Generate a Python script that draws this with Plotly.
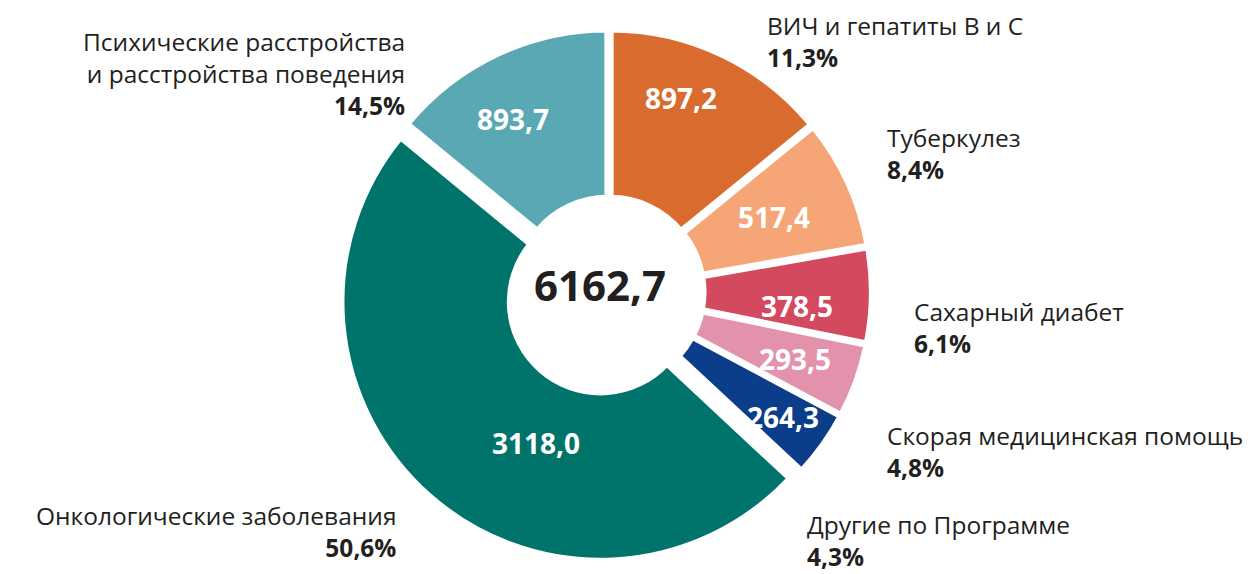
import plotly.graph_objects as go

categories = ["ВИЧ и гепатиты В и С", "Туберкулез", "Сахарный диабет",
              "Скорая медицинская помощь", "Другие по Программе",
              "Онкологические заболевания",
              "Психические расстройства<br>и расстройства поведения"]
amounts = [897.2, 517.4, 378.5, 293.5, 264.3, 3118.0, 893.7]
amount_labels = ["897,2", "517,4", "378,5", "293,5", "264,3", "3118,0", "893,7"]
share_labels = ["11,3%", "8,4%", "6,1%", "4,8%", "4,3%", "50,6%", "14,5%"]
total_label = "6162,7"
colors = ["#DA6B2E", "#F6A577", "#D34A5F", "#E293AB", "#0C3D8A", "#00736A", "#59A8B3"]
pulls = [0.015, 0.015, 0.015, 0.015, 0.015, 0.05, 0.015]

FONT = "Open Sans"
OFF = 8                      # page body margin
W, H = 1247, 566             # figure size
cx, cy, R = 609, 292, 259    # pie centre / radius in page pixels
half = R * (1 + max(pulls))


def px(x):
    return (x - OFF) / W


def py(y):
    return 1 - (y - OFF) / H


fig = go.Figure(go.Pie(
    labels=categories,
    values=amounts,
    textinfo="none",
    hole=0.35,
    sort=False,
    direction="clockwise",
    rotation=0,
    pull=pulls,
    marker=dict(colors=colors, line=dict(color="white", width=6)),
    showlegend=False,
    text=amount_labels,
    hoverinfo="label+text",
    domain=dict(x=[px(cx - half), px(cx + half)],
                y=[py(cy + half), py(cy - half)]),
))

# value labels inside the slices (page px, centre of the text box)
value_pos = [(681, 98), (774, 217), (797, 306), (795, 359), (783, 417), (536, 443), (513, 119)]
for lab, (x, y) in zip(amount_labels, value_pos):
    fig.add_annotation(
        x=px(x), y=py(y), xref="paper", yref="paper",
        xanchor="center", yanchor="middle",
        text=f"<b>{lab}</b>", showarrow=False,
        font=dict(family=FONT, size=28, color="white"),
    )

# outside labels: (x px, y px of block centre, anchor)
label_pos = [
    (765, 42, "left"),
    (885, 153, "left"),
    (912, 327.5, "left"),
    (885, 451.5, "left"),
    (805, 540, "left"),
    (398, 531, "right"),
    (407, 73, "right"),
]
for cat, pct, (x, y, anc) in zip(categories, share_labels, label_pos):
    fig.add_annotation(
        x=px(x), y=py(y), xref="paper", yref="paper",
        xanchor=anc, yanchor="middle", align=anc,
        text=f"{cat}<br><b>{pct}</b>", showarrow=False,
        font=dict(family=FONT, size=24.5, color="#231F20"),
    )

fig.add_annotation(
    x=px(600), y=py(285), xref="paper", yref="paper",
    xanchor="center", yanchor="middle",
    text=f"<b>{total_label}</b>", showarrow=False,
    font=dict(family=FONT, size=42, color="#231F20"),
)

fig.update_layout(
    width=W, height=H,
    margin=dict(l=0, r=0, t=0, b=0),
    paper_bgcolor="white", plot_bgcolor="white",
)

fig.write_html("out.html")
